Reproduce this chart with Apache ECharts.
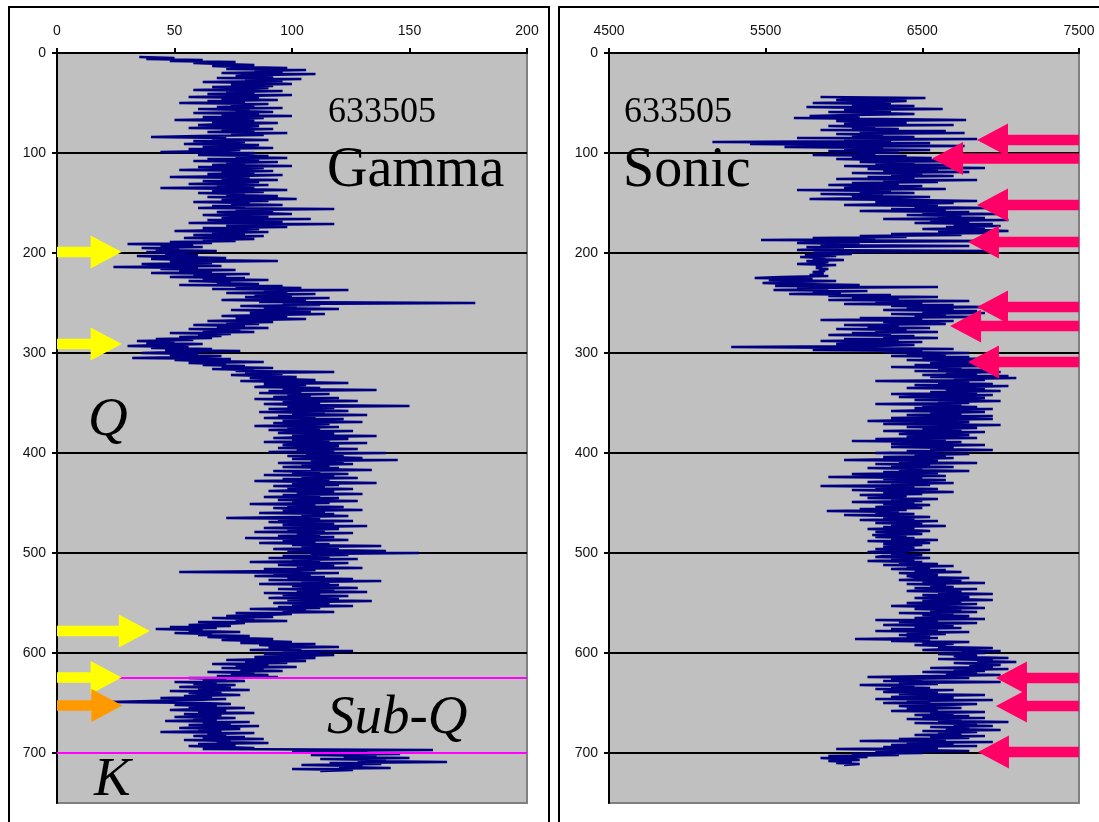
<!DOCTYPE html>
<html>
<head>
<meta charset="utf-8">
<script src="https://cdn.jsdelivr.net/npm/echarts@6/dist/echarts.min.js"></script>
<style>
html,body{margin:0;padding:0;background:#fff;}
#chart{width:1099px;height:822px;}
</style>
</head>
<body>
<div id="chart"></div>
<script>
// ---------- DATA ----------
const wellId = '633505';
const depthTicks = [0, 100, 200, 300, 400, 500, 600, 700];
const gammaTicks = [0, 50, 100, 150, 200];
const sonicTicks = [4500, 5500, 6500, 7500];

// Gamma log, one reading per ft from 4 ft
const gammaStartDepth = 4;
const gammaStep = 1;
const gammaValues = [
  35, 50, 38, 62, 48, 76, 58, 70, 84, 66,
  78, 98, 72, 106, 84, 96, 70, 110, 88, 76,
  92, 68, 104, 80, 96, 62, 88, 100, 74, 92,
  66, 90, 78, 58, 96, 72, 84, 64, 100, 80,
  56, 86, 70, 94, 64, 80, 52, 90, 74, 84,
  68, 96, 60, 82, 76, 92, 58, 86, 70, 100,
  62, 88, 74, 50, 84, 66, 94, 72, 60, 86,
  78, 56, 92, 70, 84, 64, 98, 74, 88, 60,
  40, 72, 66, 90, 58, 80, 70, 54, 86, 74,
  62, 92, 56, 78, 68, 44, 84, 72, 60, 90,
  76, 98, 64, 86, 58, 94, 72, 80, 66, 100,
  60, 88, 76, 52, 92, 70, 84, 64, 96, 78,
  48, 82, 70, 94, 62, 86, 74, 56, 90, 68,
  84, 44, 78, 98, 66, 88, 60, 80, 72, 94,
  64, 86, 102, 70, 90, 58, 82, 74, 96, 66,
  80, 60, 118, 76, 92, 68, 86, 100, 62, 78,
  90, 70, 108, 64, 84, 96, 56, 118, 80, 72,
  98, 62, 86, 74, 50, 90, 66, 80, 58, 88,
  70, 54, 84, 62, 76, 48, 66, 30, 58, 44,
  62, 36, 52, 42, 68, 38, 56, 46, 60, 34,
  50, 72, 40, 58, 94, 48, 66, 36, 54, 70,
  24, 60, 44, 76, 52, 66, 40, 82, 58, 72,
  48, 80, 62, 90, 56, 74, 68, 86, 52, 96,
  76, 104, 66, 124, 88, 98, 72, 110, 84, 100,
  80, 116, 92, 70, 106, 86, 178, 96, 112, 78,
  102, 88, 120, 74, 96, 108, 82, 114, 90, 70,
  98, 76, 106, 84, 64, 92, 72, 86, 58, 80,
  68, 90, 56, 78, 62, 84, 48, 74, 60, 70,
  52, 66, 42, 58, 34, 50, 38, 62, 44, 30,
  56, 40, 66, 46, 78, 52, 36, 60, 48, 70,
  58, 32, 74, 50, 64, 88, 56, 72, 62, 80,
  70, 92, 66, 84, 76, 118, 80, 96, 74, 88,
  102, 82, 94, 110, 78, 100, 124, 88, 106, 92,
  84, 112, 96, 136, 90, 104, 86, 116, 98, 108,
  92, 120, 84, 106, 128, 96, 112, 88, 104, 150,
  98, 118, 90, 108, 124, 86, 114, 100, 132, 94,
  110, 88, 122, 102, 96, 130, 92, 116, 104, 84,
  120, 98, 112, 90, 126, 106, 94, 118, 100, 136,
  108, 92, 124, 100, 116, 88, 132, 104, 96, 120,
  110, 94, 128, 102, 118, 90, 140, 106, 122, 98,
  114, 130, 100, 145, 108, 122, 94, 126, 104, 116,
  96, 120, 108, 134, 92, 112, 100, 124, 88, 118,
  104, 128, 96, 116, 84, 110, 136, 100, 120, 92,
  114, 98, 126, 106, 90, 118, 102, 130, 96, 112,
  88, 120, 104, 94, 128, 100, 116, 82, 110, 98,
  122, 92, 106, 130, 96, 114, 86, 118, 104, 124,
  100, 72, 112, 94, 126, 90, 108, 118, 96, 132,
  106, 88, 120, 98, 114, 84, 126, 102, 112, 94,
  118, 80, 108, 124, 96, 110, 86, 116, 100, 138,
  104, 120, 92, 112, 140, 98, 154, 108, 124, 96,
  116, 90, 128, 100, 112, 82, 124, 106, 94, 118,
  102, 130, 88, 110, 96, 52, 120, 92, 108, 84,
  114, 98, 126, 90, 138, 104, 116, 86, 120, 100,
  110, 128, 94, 118, 102, 132, 88, 112, 96, 124,
  104, 90, 120, 98, 134, 108, 92, 116, 100, 126,
  94, 112, 82, 106, 96, 118, 76, 100, 88, 72,
  92, 66, 84, 76, 98, 60, 80, 70, 56, 74,
  48, 68, 42, 62, 56, 78, 50, 66, 60, 82,
  64, 76, 92, 70, 88, 100, 78, 110, 86, 96,
  120, 90, 104, 82, 126, 96, 112, 88, 118, 100,
  84, 110, 92, 72, 106, 80, 98, 66, 90, 76,
  102, 70, 88, 78, 96, 64, 84, 74, 90, 68,
  94, 56, 72, 62, 80, 50, 68, 58, 76, 66,
  52, 74, 60, 82, 48, 70, 56, 64, 78, 54,
  66, 44, 72, 58, 40, 22, 62, 74, 50, 68,
  56, 80, 62, 48, 72, 60, 84, 54, 70, 64,
  50, 76, 58, 68, 46, 82, 62, 74, 56, 86,
  66, 52, 78, 60, 70, 44, 84, 64, 72, 58,
  80, 62, 88, 54, 74, 68, 90, 60, 76, 56,
  70, 84, 62, 160, 100, 132, 118, 146, 108, 136,
  122, 150, 112, 140, 128, 166, 116, 138, 104, 130,
  120, 142, 100, 126, 112
];

// Sonic log, one reading per ft from 44 ft
const sonicStartDepth = 44;
const sonicStep = 1;
const sonicValues = [
  5850, 6520, 6100, 5950, 6400, 6200, 5800, 6300, 6050, 6450,
  5760, 6150, 6630, 6000, 6300, 5900, 6200, 6450, 6050, 5780,
  6100, 5680, 6250, 6780, 5950, 6150, 6400, 6000, 6700, 5900,
  6200, 6050, 6350, 5850, 6650, 6100, 6770, 5950, 6250, 6050,
  6450, 5700, 6850, 6000, 6300, 5160, 6550, 5400, 6150, 6770,
  5620, 6250, 6000, 6550, 5900, 6350, 6100, 6200, 5800, 6400,
  6050, 6560, 5950, 6300, 6850, 6100, 6450, 6200, 6700, 6000,
  6350, 6900, 6150, 6600, 6250, 6800, 6050, 6500, 6300, 6700,
  6150, 6450, 5950, 6850, 6250, 6600, 6050, 6350, 5900, 6500,
  6200, 6000, 6650, 5700, 6300, 6100, 6450, 5850, 6250, 6050,
  6550, 6150, 5780, 6400, 6850, 6200, 6700, 6350, 6000, 6600,
  6450, 6950, 6300, 6650, 6100, 6800, 6500, 7000, 6400, 6750,
  6600, 6900, 6250, 7050, 6550, 6800, 6450, 6950, 6700, 7000,
  6650, 6900, 6500, 6850, 7050, 6600, 6950, 6300, 6750, 6100,
  6400, 5800, 6200, 5470, 6980, 5900, 5700, 6100, 5850, 6800,
  5760, 6000, 5850, 5700, 6950, 5900, 5800, 6050, 5750, 5950,
  5720, 5880, 5800, 6000, 5760, 5900, 5850, 5700, 5950, 5820,
  5860, 5820, 5900, 5840, 5880, 5800, 5850, 5870, 5780, 5900,
  5600, 5430, 5800, 5520, 5950, 5650, 5480, 5700, 6100, 5560,
  6600, 5700, 5900, 5550, 6150, 5800, 5980, 5650, 6300, 5900,
  6600, 6050, 6350, 5900, 6800, 6200, 6500, 6000, 6700, 6300,
  6950, 6400, 6700, 6250, 6850, 6500, 6900, 6300, 6650, 6450,
  6850, 6100, 6500, 5850, 6700, 6250, 6450, 6650, 6000, 6350,
  6150, 6550, 5950, 6400, 6200, 6600, 6050, 6300, 5900, 6450,
  6250, 6600, 6000, 6350, 5850, 6500, 6150, 5950, 6450, 6200,
  5280, 6100, 6700, 5800, 6500, 6250, 6800, 6400, 6650, 6300,
  6800, 6500, 6950, 6400, 6700, 7000, 6550, 6850, 6450, 6950,
  6300, 6750, 6600, 6900, 6450, 7000, 6650, 6850, 6500, 7050,
  6550, 7100, 6700, 6900, 6200, 6800, 6600, 6950, 6450, 7050,
  6750, 6400, 6900, 6650, 7000, 6550, 6850, 6300, 6950, 6700,
  6350, 6900, 6700, 6450, 7000, 6600, 6800, 6200, 6750, 6500,
  6850, 6450, 6950, 6600, 6300, 6900, 6550, 6750, 6400, 6950,
  6700, 6300, 6950, 6450, 6150, 6800, 6550, 6250, 7000, 6600,
  6400, 6850, 6500, 6750, 6250, 6900, 6550, 6350, 6800, 6450,
  6400, 6850, 6200, 6650, 6050, 6750, 6450, 6300, 6900, 6500,
  6300, 6700, 6550, 6950, 6400, 6600, 6200, 6800, 6450, 6650,
  6250, 6700, 6400, 6000, 6600, 6350, 6850, 6200, 6550, 6300,
  6700, 6150, 6500, 6350, 6800, 6250, 6600, 6050, 6450, 6650,
  5900, 6500, 6250, 6650, 6400, 6150, 6700, 6300, 6550, 5850,
  6450, 6200, 6600, 6050, 6350, 6700, 6250, 6500, 6100, 6400,
  6400, 6150, 6600, 6300, 6500, 6050, 6450, 6250, 6550, 6350,
  6200, 6500, 6100, 6400, 5890, 6350, 6200, 6450, 6000, 6300,
  6550, 6250, 6450, 6100, 6600, 6350, 6200, 6500, 6300, 6650,
  6250, 6450, 6150, 6400, 6550, 6200, 6350, 6500, 6180, 6400,
  6200, 6450, 6300, 6600, 6150, 6400, 6550, 6250, 6500, 6350,
  6250, 6450, 6200, 6550, 6350, 6150, 6400, 6300, 6500, 6250,
  6200, 6550, 6300, 6450, 6150, 6500, 6350, 6600, 6250, 6700,
  6400, 6550, 6300, 6650, 6450, 6750, 6350, 6500, 6600, 6400,
  6450, 6800, 6550, 6350, 6750, 6500, 6900, 6400, 6650, 6550,
  6700, 6450, 6850, 6550, 6400, 6750, 6600, 6950, 6500, 6700,
  6800, 6450, 6700, 6950, 6500, 6750, 6400, 6850, 6600, 6300,
  6650, 6900, 6450, 6750, 6550, 6850, 6350, 6700, 6500, 6800,
  6700, 6450, 6900, 6200, 6600, 6350, 6850, 6550, 6250, 6700,
  6450, 6750, 6300, 6600, 6200, 6800, 6400, 6650, 6350, 6550,
  6400, 6600, 6070, 6550, 6300, 6800, 6500, 6700, 6450, 6650,
  6600, 6950, 6700, 6500, 7000, 6750, 6900, 6600, 6850, 6700,
  6750, 7050, 6600, 6950, 6850, 7100, 6700, 6900, 7000, 6800,
  6950, 6550, 7050, 6700, 6900, 6500, 6850, 6650, 7000, 6600,
  6150, 6800, 6300, 6500, 6250, 7000, 6350, 6600, 6100, 6450,
  6300, 6550, 6200, 6700, 6400, 6250, 6600, 6350, 6900, 6450,
  6300, 6700, 6200, 6950, 6400, 6550, 6250, 6850, 6650, 6350,
  6500, 6750, 6400, 6600, 6300, 6900, 6550, 6700, 6450, 6800,
  6500, 6900, 6400, 6750, 6600, 7050, 6450, 6850, 6700, 6950,
  6550, 6800, 6650, 7000, 6500, 6850, 6600, 6750, 6450, 6900,
  6550, 6800, 6350, 6650, 6100, 6950, 6400, 6700, 6300, 6850,
  6250, 6600, 5950, 6450, 6800, 6200, 6500, 6050, 6350, 5900,
  6150, 5850, 6000, 6100, 5900, 6050, 5950, 6100, 6000
];

// Formation boundaries (magenta lines) on the gamma log
const boundaryDepths = [625, 700];

// Arrow annotations: depth, tip value, colour
const gammaArrowDepth = [199, 291, 578, 624.5, 652.5];
const gammaArrowTip   = [27.5, 27.5, 39.5, 27.5, 27.8];
const gammaArrowColor = ['#ffff00', '#ffff00', '#ffff00', '#ffff00', '#ff9900'];

const sonicArrowDepth = [87, 105.5, 152, 189, 254, 273, 309, 625, 653, 699];
const sonicArrowTip   = [6849, 6562, 6849, 6791, 6849, 6677, 6791, 6970, 6970, 6855];
const sonicArrowColor = '#ff0066';

// ---------- BUILD ----------
const gammaData = gammaValues.map((v, i) => [v, gammaStartDepth + i * gammaStep]);
const sonicData = sonicValues.map((v, i) => [v, sonicStartDepth + i * sonicStep]);

const gammaArrowData = gammaArrowDepth.map((d, i) => [d, gammaArrowTip[i], gammaTicks[0], i]);
const sonicArrowData = sonicArrowDepth.map((d, i) => [d, sonicArrowTip[i], sonicTicks[sonicTicks.length - 1], i]);

const HEAD_LEN = 31, HEAD_H = 16.5, SHAFT_H = 5.2;
function arrowRenderer(colorFn) {
  return function (params, api) {
    const d = api.value(0), tip = api.value(1), edge = api.value(2), idx = api.value(3);
    const pT = api.coord([tip, d]);
    const pE = api.coord([edge, d]);
    const dir = pT[0] > pE[0] ? 1 : -1;
    const hx = pT[0] - dir * HEAD_LEN;
    const y = pT[1];
    return {
      type: 'polygon',
      shape: { points: [[pT[0], y], [hx, y - HEAD_H], [hx, y - SHAFT_H], [pE[0], y - SHAFT_H],
                        [pE[0], y + SHAFT_H], [hx, y + SHAFT_H], [hx, y + HEAD_H]] },
      style: { fill: colorFn(idx) }
    };
  };
}

const axisFont = { fontFamily: 'Liberation Sans, Arial, sans-serif', fontSize: 14, color: '#111' };

function xAxisCfg(gridIndex, min, max, ticks) {
  return {
    type: 'value', gridIndex, position: 'top', min, max,
    axisLine: { show: true, onZero: false, lineStyle: { color: '#000', width: 2 } },
    axisTick: { show: true, length: 5, customValues: ticks, lineStyle: { color: '#000', width: 2 } },
    axisLabel: Object.assign({ customValues: ticks, margin: 15, formatter: v => String(v) }, axisFont),
    splitLine: { show: false }
  };
}
function yAxisCfg(gridIndex) {
  return {
    type: 'value', gridIndex, inverse: true, min: 0, max: 750,
    axisLine: { show: true, onZero: false, lineStyle: { color: '#000', width: 2 } },
    axisTick: { show: true, length: 5, customValues: depthTicks, lineStyle: { color: '#000', width: 2 } },
    axisLabel: Object.assign({ customValues: depthTicks, margin: 11, formatter: v => String(v) }, axisFont),
    splitLine: { show: true, lineStyle: { color: '#000', width: 2 } }
  };
}

const serif = 'Liberation Serif, Times New Roman, serif';
function txt(text, x, y, size, italic) {
  return {
    type: 'text', x, y, z: 100,
    style: { text, fill: '#000', font: (italic ? 'italic ' : '') + size + 'px ' + serif,
             verticalAlign: 'middle', align: 'left' }
  };
}

const option = {
  animation: false,
  backgroundColor: '#fff',
  grid: [
    { left: 57, top: 53, width: 470, height: 750, show: true, backgroundColor: '#c0c0c0', borderColor: '#808080', borderWidth: 2 },
    { left: 609, top: 53, width: 470, height: 750, show: true, backgroundColor: '#c0c0c0', borderColor: '#808080', borderWidth: 2 }
  ],
  xAxis: [xAxisCfg(0, 0, 200, gammaTicks), xAxisCfg(1, 4500, 7500, sonicTicks)],
  yAxis: [yAxisCfg(0), yAxisCfg(1)],
  series: [
    {
      type: 'line', xAxisIndex: 0, yAxisIndex: 0, data: gammaData, symbol: 'none', z: 3,
      lineStyle: { color: '#000080', width: 2.6 },
      markLine: {
        silent: true, symbol: 'none', label: { show: false },
        lineStyle: { color: '#ff00ff', width: 2, type: 'solid' },
        data: boundaryDepths.map(d => ({ yAxis: d }))
      }
    },
    {
      type: 'line', xAxisIndex: 1, yAxisIndex: 1, data: sonicData, symbol: 'none', z: 3,
      lineStyle: { color: '#000080', width: 2.4 }
    },
    {
      type: 'custom', xAxisIndex: 0, yAxisIndex: 0, data: gammaArrowData, z: 6,
      encode: { x: [1, 2], y: 0 },
      renderItem: arrowRenderer(i => gammaArrowColor[i])
    },
    {
      type: 'custom', xAxisIndex: 1, yAxisIndex: 1, data: sonicArrowData, z: 6,
      encode: { x: [1, 2], y: 0 },
      renderItem: arrowRenderer(() => sonicArrowColor)
    }
  ],
  graphic: [
    { type: 'rect', shape: { x: 9, y: 7, width: 540, height: 830 }, style: { fill: 'none', stroke: '#000', lineWidth: 2 }, z: 100 },
    { type: 'rect', shape: { x: 559, y: 7, width: 600, height: 830 }, style: { fill: 'none', stroke: '#000', lineWidth: 2 }, z: 100 },
    txt(wellId, 328, 113, 36, false),
    txt('Gamma', 327, 171, 56, false),
    txt(wellId, 624, 113, 36, false),
    txt('Sonic', 623, 171, 56, false),
    txt('Q', 88, 421, 55, true),
    txt('Sub-Q', 327, 719, 55, true),
    txt('K', 94, 781, 55, true)
  ]
};

const chart = echarts.init(document.getElementById('chart'), null, { renderer: 'canvas' });
chart.setOption(option);
</script>
</body>
</html>
